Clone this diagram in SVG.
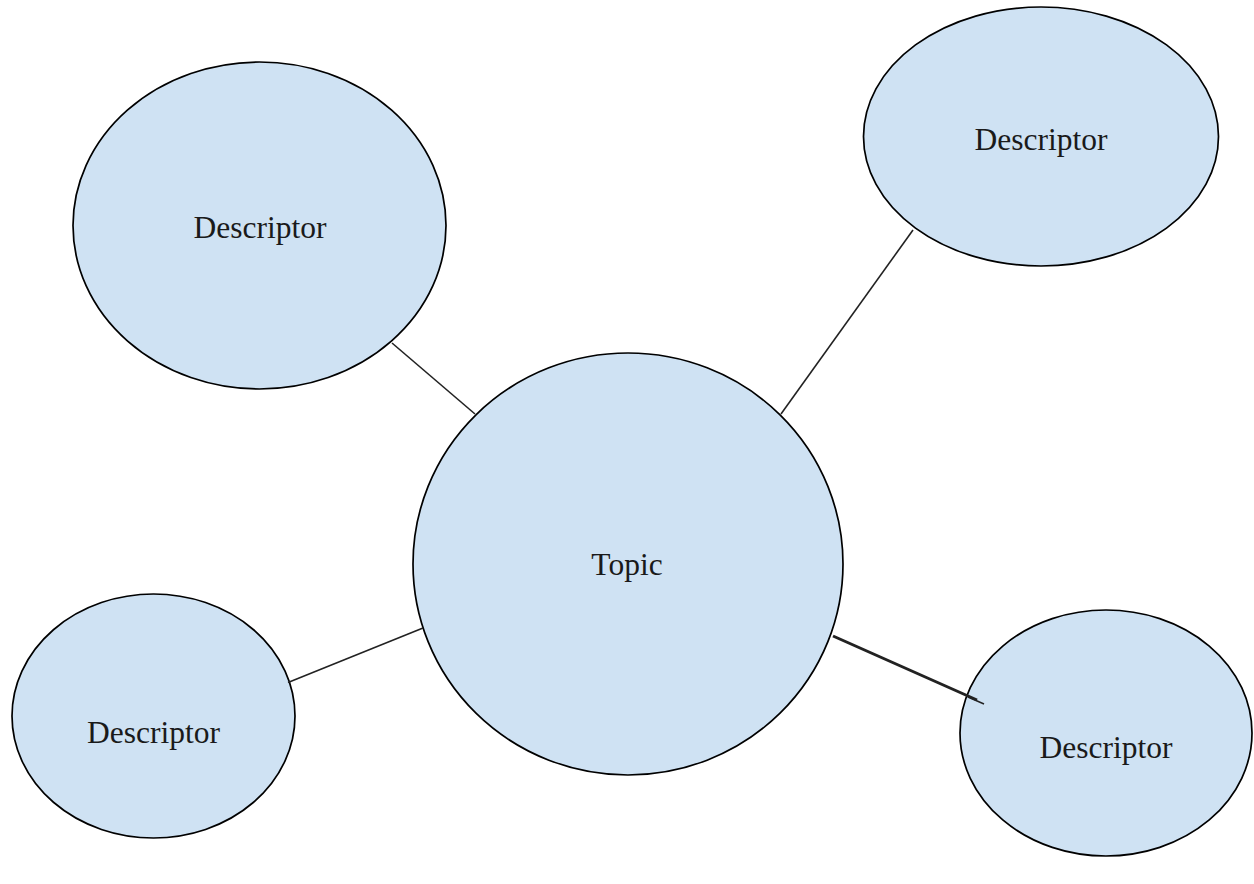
<svg xmlns="http://www.w3.org/2000/svg" width="1254" height="884" viewBox="0 0 1254 884">
<style>
.node{fill:#cfe2f3;stroke:#000;stroke-width:1.7}
.lbl{font-family:"Liberation Serif","Times New Roman",serif;font-size:31.5px;fill:#1a1a1a;text-anchor:middle}
.edge{stroke:#222;stroke-width:1.6;fill:none;stroke-linecap:butt}
</style>
<rect width="1254" height="884" fill="#fff"/>
<g id="node-topic">
<ellipse class="node" cx="628" cy="564" rx="215" ry="211"/>
<text class="lbl" x="627" y="575">Topic</text>
</g>
<g id="node-top-left">
<ellipse class="node" cx="259.5" cy="225.5" rx="186.5" ry="163.5"/>
<text class="lbl" x="260" y="238">Descriptor</text>
</g>
<g id="node-top-right">
<ellipse class="node" cx="1041" cy="136.5" rx="177.5" ry="129.5"/>
<text class="lbl" x="1041" y="150">Descriptor</text>
</g>
<g id="node-bottom-left">
<ellipse class="node" cx="153.5" cy="716" rx="141.5" ry="122"/>
<text class="lbl" x="153.5" y="743">Descriptor</text>
</g>
<g id="node-bottom-right">
<ellipse class="node" cx="1106" cy="733" rx="146" ry="123"/>
<text class="lbl" x="1106" y="758">Descriptor</text>
</g>
<g id="connectors">
<line class="edge" x1="392" y1="343" x2="475" y2="414"/>
<line class="edge" x1="913" y1="230" x2="781" y2="414"/>
<line class="edge" x1="288" y1="682.5" x2="423" y2="628"/>
<line class="edge" x1="833" y1="636" x2="977" y2="700" style="stroke-width:3"/>
<line class="edge" x1="968" y1="697" x2="984" y2="704" style="stroke-width:1.5"/>
</g>
</svg>
